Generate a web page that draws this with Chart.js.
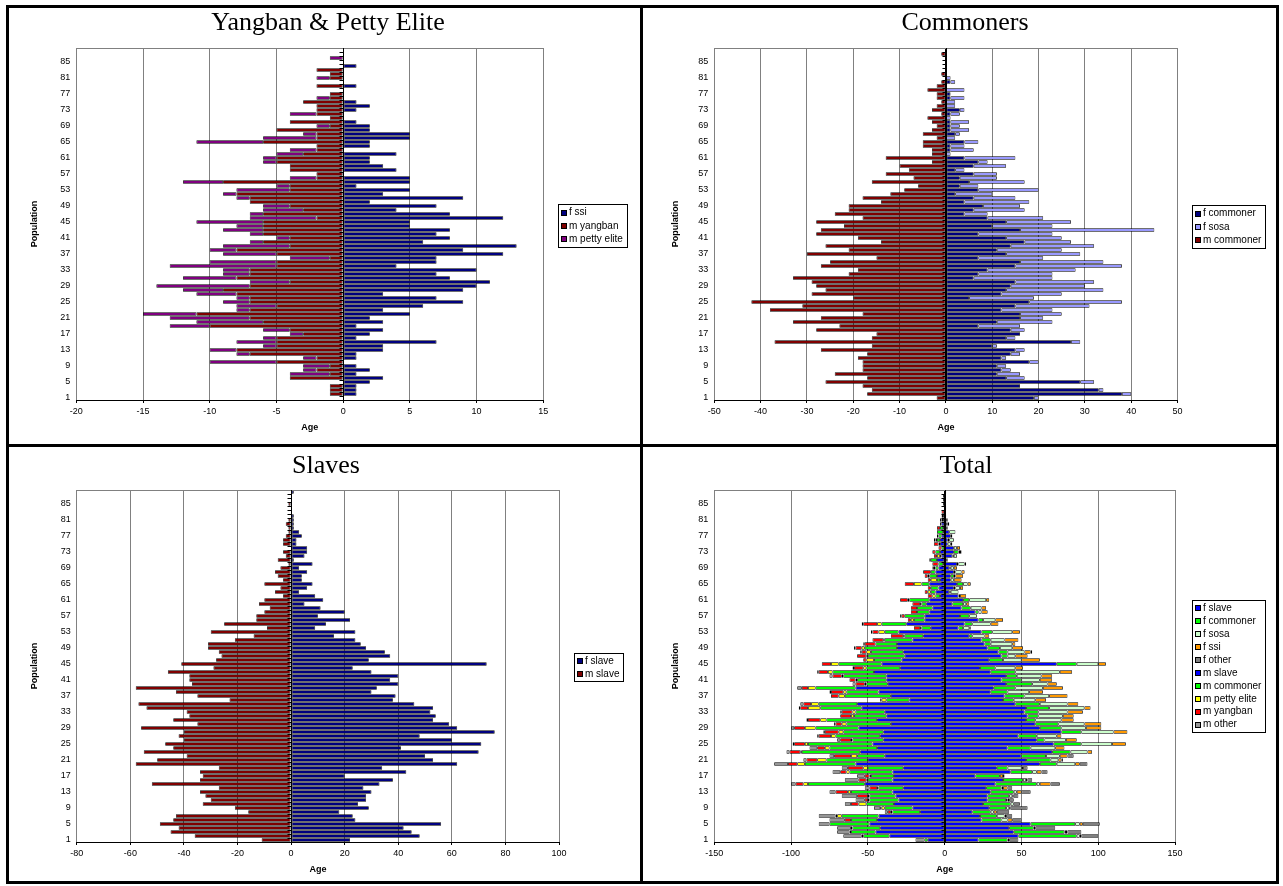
<!DOCTYPE html>
<html>
<head>
<meta charset="utf-8">
<title>Population pyramids</title>
<script src="https://cdn.jsdelivr.net/npm/chart.js@4.4.1/dist/chart.umd.min.js"></script>
<style>
  html, body { margin: 0; padding: 0; background: #fff; }
  #sheet { position: relative; width: 1283px; height: 886px; overflow: hidden; }
  #sheet canvas { position: absolute; }
  .rule { position: absolute; background: #000; z-index: 2; }
  .frame { position: absolute; border: 3px solid #000; box-sizing: border-box; z-index: 2; }
</style>
</head>
<body>
<div id="sheet">
  <canvas id="cElite" width="640" height="444" style="left:0;top:0"></canvas>
  <canvas id="cCommon" width="636" height="444" style="left:643px;top:0"></canvas>
  <canvas id="cSlave" width="640" height="437" style="left:0;top:447px"></canvas>
  <canvas id="cTotal" width="636" height="437" style="left:643px;top:447px"></canvas>
  <div class="frame" style="left:6px;top:5px;width:1273px;height:879px"></div>
  <div class="rule" style="left:640px;top:5px;width:3px;height:879px"></div>
  <div class="rule" style="left:6px;top:444px;width:1273px;height:3px"></div>
</div>
<script>
// age groups 1..88, youngest at the bottom
const ages = Array.from({ length: 88 }, (_, i) => String(i + 1));

// yangban household women and men (men as counts, drawn to the left)
const fSsi = [0,1,1,1,2,3,1,2,1,0, 1,1,3,3,7,1,2,3,1,3, 2,5,3,6,9,7,3,9,10,11,
  8,7,10,4,7,7,12,9,13,6, 8,7,8,5,5,12,8,4,7,2, 9,3,5,1,5,5,0,4,3,2,
  2,4,0,2,2,5,5,2,2,1, 0,0,1,2,1,0,0,0,1,0, 0,0,0,1,0,0,0,0];
const mYangban = [0,1,1,1,0,4,1,2,1,5, 2,7,8,5,5,5,3,4,10,6, 7,11,7,5,7,7,8,9,7,4,
  8,7,7,5,5,1,5,8,4,6, 4,6,6,6,6,2,6,3,4,7, 7,8,4,4,9,2,2,4,4,5,
  5,3,2,2,6,2,2,5,1,4, 1,2,2,2,3,1,1,0,2,0, 1,1,2,0,0,0,0,0];
const mPettyElite = [0,0,0,0,0,0,3,1,2,5, 1,1,2,1,3,1,1,2,3,5, 6,4,1,3,2,1,3,3,7,3,
  4,2,2,8,5,3,4,2,5,1, 1,1,3,2,5,5,1,3,2,0, 1,1,4,1,3,2,0,0,0,1,
  1,2,2,0,5,4,1,0,1,0, 0,2,0,0,0,1,0,0,0,0, 1,0,0,0,0,1,0,0];

// commoners
const fCommoner = [19,38,33,16,29,13,11,12,11,18, 12,14,15,10,27,13,16,14,7,11, 16,16,12,15,18,5,12,13,14,15,
  6,7,9,15,16,7,13,11,14,17, 13,7,16,10,13,9,4,6,8,4, 6,2,7,3,5,3,6,2,6,7,
  4,0,1,1,4,0,2,1,1,1, 0,1,3,0,0,1,1,0,0,1, 0,0,0,0,0,0,0,0];
const fSosa = [1,2,1,0,3,4,5,2,2,2, 1,2,2,1,2,2,0,3,9,12, 5,9,11,16,20,14,13,21,16,17,
  17,16,19,23,18,14,16,14,18,10, 12,16,29,13,14,12,5,11,8,14, 9,8,13,4,12,8,5,2,7,2,
  11,1,5,3,3,2,1,4,2,4, 1,2,1,2,2,3,0,4,0,1, 1,0,0,0,0,0,0,0];
const mCommoner = [2,17,16,18,26,17,24,18,18,18, 19,17,27,16,37,16,15,28,23,33, 27,18,38,31,42,20,29,26,28,29,
  33,21,19,27,25,15,30,21,26,14, 19,28,27,22,28,18,24,21,21,14, 18,12,9,6,16,7,13,8,10,3,
  13,3,3,5,5,2,5,3,2,3, 4,1,3,2,1,2,2,4,2,1, 0,1,0,0,0,0,1,0];

// slaves
const fSlave = [22,48,45,42,56,24,23,18,29,25, 28,28,30,27,33,38,20,43,34,62, 53,50,70,41,71,60,48,76,62,59,
  53,54,52,53,46,38,39,30,32,40, 37,40,30,23,73,29,37,35,28,26, 24,16,24,9,13,22,10,20,11,5,
  12,9,3,6,8,4,4,6,3,8, 1,5,6,6,2,2,4,3,1,1, 1,1,0,0,0,0,0,1];
const mSlave = [11,36,45,42,49,44,43,16,21,33, 30,32,34,27,52,34,33,34,27,58, 50,39,55,44,47,40,42,40,56,35,
  44,38,39,54,57,23,35,43,58,37, 38,38,46,29,41,28,26,27,31,31, 21,14,30,9,25,13,13,10,8,12,
  10,3,6,4,10,3,5,6,4,1, 5,2,3,0,3,3,2,1,1,2, 1,0,0,0,1,0,0,0];

// unclassified status, only in the total
const fOther = [6,11,9,13,11,6,4,8,11,4, 3,3,6,3,6,3,1,4,3,5, 1,4,0,0,0,0,0,0,0,0,
  0,0,0,0,0,0,0,0,0,0, 0,0,0,0,0,0,0,1,0,0, 0,0,0,0,0,0,0,0,0,0,
  0,0,0,0,0,0,0,0,0,0, 0,0,0,0,0,0,0,0,0,0, 0,0,0,0,0,0,0,0];
const mOther = [6,12,8,9,7,10,11,2,4,4, 6,10,4,3,3,9,5,5,4,9, 2,3,2,5,1,2,1,1,2,1,
  1,0,1,1,2,0,0,1,3,2, 0,2,1,1,0,0,0,1,1,1, 0,0,1,0,1,0,1,0,0,0,
  0,0,0,0,0,0,0,0,0,0, 0,0,0,0,0,0,0,0,0,0, 0,0,0,0,0,0,0,0];

const Y_AXIS_W = 30;
const X_AXIS_H = 20;
const SANS = '"Liberation Sans", Arial, sans-serif';

Chart.defaults.font.family = SANS;
Chart.defaults.font.size = 9;
Chart.defaults.color = '#000';

const neg = arr => arr.map(v => -v);

function bars(label, data, color) {
  return {
    label, data,
    backgroundColor: color,
    borderColor: '#000',
    borderWidth: 0.8,
    borderSkipped: false,
    inflateAmount: 0,
    categoryPercentage: 0.9,
    barPercentage: 1
  };
}

// titles, zero axis with its category ticks, plot frame and boxed legend
const decor = {
  id: 'decor',
  beforeDatasetsDraw(chart) {
    const { ctx, chartArea: a, scales: { x, y } } = chart;
    const x0 = Math.round(x.getPixelForValue(0)) + 0.5;
    const n = y.ticks.length;
    ctx.save();
    ctx.strokeStyle = '#000';
    ctx.lineWidth = 1;
    ctx.beginPath();
    for (let i = 0; i <= n; i++) {
      const yy = Math.round(a.top + i * (a.bottom - a.top) / n) + 0.5;
      ctx.moveTo(x0 - 4, yy);
      ctx.lineTo(x0, yy);
    }
    ctx.stroke();
    ctx.restore();
  },
  afterDatasetsDraw(chart) {
    const { ctx, chartArea: a, scales: { x } } = chart;
    const x0 = Math.round(x.getPixelForValue(0)) + 0.5;
    ctx.save();
    ctx.lineWidth = 1;
    ctx.strokeStyle = '#808080';
    ctx.beginPath();
    ctx.moveTo(a.left, a.top + 0.5);
    ctx.lineTo(a.right, a.top + 0.5);
    ctx.stroke();
    ctx.strokeStyle = '#000';
    ctx.beginPath();
    ctx.moveTo(x0, a.top);
    ctx.lineTo(x0, a.bottom);
    ctx.moveTo(a.left, Math.round(a.bottom) + 0.5);
    ctx.lineTo(a.right, Math.round(a.bottom) + 0.5);
    ctx.stroke();
    ctx.restore();
  },
  afterDraw(chart, args, o) {
    const { ctx, chartArea: a } = chart;
    ctx.save();
    ctx.fillStyle = '#000';

    ctx.font = '26px "Liberation Serif", "Times New Roman", serif';
    ctx.textAlign = 'center';
    ctx.textBaseline = 'alphabetic';
    ctx.fillText(o.title, o.titleX, o.titleY);

    ctx.font = 'bold 9px ' + SANS;
    ctx.textBaseline = 'middle';
    ctx.fillText('Age', (a.left + a.right) / 2, o.xTitleY);
    ctx.save();
    ctx.translate(o.yTitleX, (a.top + a.bottom) / 2);
    ctx.rotate(-Math.PI / 2);
    ctx.fillText('Population', 0, 0);
    ctx.restore();

    // legend box
    const sets = chart.data.datasets;
    ctx.font = '10px ' + SANS;
    const textW = Math.max(...sets.map(d => ctx.measureText(d.label).width));
    const w = Math.round(11 + textW + 4);
    const h = Math.round(sets.length * o.rowH + 3);
    ctx.lineWidth = 1;
    ctx.strokeStyle = '#000';
    ctx.strokeRect(o.legendX + 0.5, o.legendY + 0.5, w, h);
    ctx.textAlign = 'left';
    sets.forEach((d, i) => {
      const cy = o.legendY + 2 + o.rowH * (i + 0.5);
      const sy = Math.round(cy - 3) + 0.5;
      ctx.fillStyle = d.backgroundColor;
      ctx.fillRect(o.legendX + 3.5, sy, 5, 5);
      ctx.strokeRect(o.legendX + 3.5, sy, 5, 5);
      ctx.fillStyle = '#000';
      ctx.fillText(d.label, o.legendX + 11, cy);
    });
    ctx.restore();
  }
};

function pyramid(id, p) {
  const canvas = document.getElementById(id);
  return new Chart(canvas, {
    type: 'bar',
    data: { labels: ages, datasets: p.datasets },
    plugins: [decor],
    options: {
      indexAxis: 'y',
      responsive: false,
      animation: false,
      events: [],
      layout: {
        padding: {
          left: p.plot.left - Y_AXIS_W,
          right: canvas.width - p.plot.right,
          top: p.plot.top,
          bottom: canvas.height - p.plot.bottom - X_AXIS_H
        }
      },
      scales: {
        x: {
          type: 'linear',
          stacked: true,
          min: p.min,
          max: p.max,
          afterFit: s => { s.height = X_AXIS_H; },
          ticks: { stepSize: p.step, padding: 3, maxRotation: 0, autoSkip: false, color: '#000' },
          grid: {
            color: c => (c.tick && c.tick.value === 0 ? '#000' : '#808080'),
            tickColor: '#000',
            tickLength: 3
          },
          border: { display: true, color: '#000', width: 1 }
        },
        y: {
          stacked: true,
          reverse: true,
          afterFit: s => { s.width = Y_AXIS_W; },
          grid: { display: false, drawTicks: false },
          border: { display: false },
          ticks: {
            autoSkip: false,
            padding: 6,
            color: '#000',
            callback(v, i) { return i % 4 === 0 ? this.getLabelForValue(v) : ''; }
          }
        }
      },
      plugins: {
        legend: { display: false },
        tooltip: { enabled: false },
        decor: p.decor
      }
    }
  });
}

// plot heights are 352 px so every age row gets exactly 4 px
pyramid('cElite', {
  min: -20, max: 15, step: 5,
  plot: { left: 76.3, right: 543.3, top: 48, bottom: 400 },
  datasets: [
    bars('f ssi', fSsi, '#000080'),
    bars('m yangban', neg(mYangban), '#800000'),
    bars('m petty elite', neg(mPettyElite), '#800080')
  ],
  decor: { title: 'Yangban & Petty Elite', titleX: 328, titleY: 30, xTitleY: 428, yTitleX: 35,
           legendX: 558, legendY: 204, rowH: 13.3 }
});

pyramid('cCommon', {
  min: -50, max: 50, step: 10,
  plot: { left: 71.3, right: 534.5, top: 48, bottom: 400 },
  datasets: [
    bars('f commoner', fCommoner, '#000080'),
    bars('f sosa', fSosa, '#9999FF'),
    bars('m commoner', neg(mCommoner), '#800000')
  ],
  decor: { title: 'Commoners', titleX: 322, titleY: 30, xTitleY: 428, yTitleX: 33,
           legendX: 549, legendY: 205, rowH: 13.3 }
});

pyramid('cSlave', {
  min: -80, max: 100, step: 20,
  plot: { left: 76.8, right: 559, top: 43, bottom: 395 },
  datasets: [
    bars('f slave', fSlave, '#000080'),
    bars('m slave', neg(mSlave), '#800000')
  ],
  decor: { title: 'Slaves', titleX: 326, titleY: 26, xTitleY: 423, yTitleX: 35,
           legendX: 574, legendY: 206, rowH: 12.7 }
});

pyramid('cTotal', {
  min: -150, max: 150, step: 50,
  plot: { left: 71.3, right: 532, top: 43, bottom: 395 },
  datasets: [
    bars('f slave', fSlave, '#0000FF'),
    bars('f commoner', fCommoner, '#00FF00'),
    bars('f sosa', fSosa, '#CCFFCC'),
    bars('f ssi', fSsi, '#FF9900'),
    bars('f other', fOther, '#808080'),
    bars('m slave', neg(mSlave), '#0000FF'),
    bars('m commoner', neg(mCommoner), '#00FF00'),
    bars('m petty elite', neg(mPettyElite), '#FFFF00'),
    bars('m yangban', neg(mYangban), '#FF0000'),
    bars('m other', neg(mOther), '#969696')
  ],
  decor: { title: 'Total', titleX: 323, titleY: 26, xTitleY: 423, yTitleX: 33,
           legendX: 549, legendY: 153, rowH: 12.9 }
});
</script>
</body>
</html>
